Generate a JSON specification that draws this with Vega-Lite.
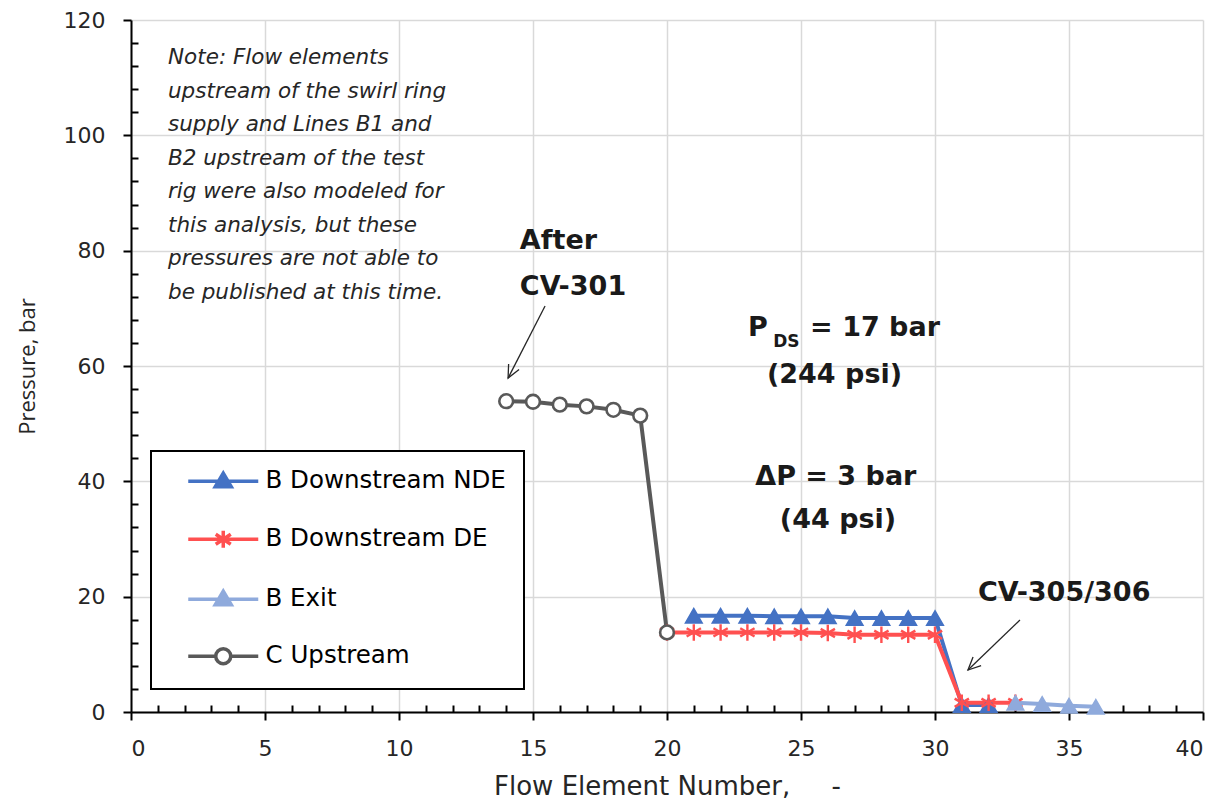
{
  "$schema": "https://vega.github.io/schema/vega-lite/v6.json",
  "width": 1072,
  "height": 692,
  "autosize": {"type": "none"},
  "padding": {"left": 131, "top": 20, "right": 19, "bottom": 94},
  "background": "white",
  "config": {"view": {"stroke": null}, "legend": {"strokeWidth": 2}},
  "datasets": {
    "series": [
      {"series": "B Downstream NDE", "x": 21, "y": 16.7},
      {"series": "B Downstream NDE", "x": 22, "y": 16.7},
      {"series": "B Downstream NDE", "x": 23, "y": 16.7},
      {"series": "B Downstream NDE", "x": 24, "y": 16.6},
      {"series": "B Downstream NDE", "x": 25, "y": 16.6},
      {"series": "B Downstream NDE", "x": 26, "y": 16.6},
      {"series": "B Downstream NDE", "x": 27, "y": 16.3},
      {"series": "B Downstream NDE", "x": 28, "y": 16.3},
      {"series": "B Downstream NDE", "x": 29, "y": 16.3},
      {"series": "B Downstream NDE", "x": 30, "y": 16.3},
      {"series": "B Downstream NDE", "x": 31, "y": 1.2},
      {"series": "B Downstream NDE", "x": 32, "y": 1.2},
      {"series": "B Downstream DE", "x": 20, "y": 13.8},
      {"series": "B Downstream DE", "x": 21, "y": 13.8},
      {"series": "B Downstream DE", "x": 22, "y": 13.8},
      {"series": "B Downstream DE", "x": 23, "y": 13.8},
      {"series": "B Downstream DE", "x": 24, "y": 13.8},
      {"series": "B Downstream DE", "x": 25, "y": 13.8},
      {"series": "B Downstream DE", "x": 26, "y": 13.7},
      {"series": "B Downstream DE", "x": 27, "y": 13.4},
      {"series": "B Downstream DE", "x": 28, "y": 13.4},
      {"series": "B Downstream DE", "x": 29, "y": 13.4},
      {"series": "B Downstream DE", "x": 30, "y": 13.4},
      {"series": "B Downstream DE", "x": 31, "y": 1.6},
      {"series": "B Downstream DE", "x": 32, "y": 1.6},
      {"series": "B Downstream DE", "x": 33, "y": 1.6},
      {"series": "B Exit", "x": 33, "y": 1.6},
      {"series": "B Exit", "x": 34, "y": 1.4},
      {"series": "B Exit", "x": 35, "y": 1.1},
      {"series": "B Exit", "x": 36, "y": 0.9},
      {"series": "C Upstream", "x": 14, "y": 53.9},
      {"series": "C Upstream", "x": 15, "y": 53.8},
      {"series": "C Upstream", "x": 16, "y": 53.3},
      {"series": "C Upstream", "x": 17, "y": 53.0},
      {"series": "C Upstream", "x": 18, "y": 52.4},
      {"series": "C Upstream", "x": 19, "y": 51.4},
      {"series": "C Upstream", "x": 20, "y": 13.8}
    ],
    "arrows": [
      {"seg": "a1", "ord": 1, "x": 15.45, "y": 70.4},
      {"seg": "a1", "ord": 2, "x": 14.07, "y": 57.9},
      {"seg": "h1", "ord": 1, "x": 14.48, "y": 59.41},
      {"seg": "h1", "ord": 2, "x": 14.07, "y": 57.9},
      {"seg": "h1", "ord": 3, "x": 14.09, "y": 60.34},
      {"seg": "a2", "ord": 1, "x": 33.17, "y": 15.95},
      {"seg": "a2", "ord": 2, "x": 31.23, "y": 7.28},
      {"seg": "h2", "ord": 1, "x": 31.72, "y": 8.06},
      {"seg": "h2", "ord": 2, "x": 31.23, "y": 7.28},
      {"seg": "h2", "ord": 3, "x": 31.42, "y": 9.55}
    ],
    "note": [
      {"x": 1.38, "y": 113.4, "text": "Note: Flow elements\nupstream of the swirl ring\nsupply and Lines B1 and\nB2 upstream of the test\nrig were also modeled for\nthis analysis, but these\npressures are not able to\nbe published at this time."}
    ],
    "boldLeft": [
      {"x": 14.51, "y": 81.6, "text": "After"},
      {"x": 14.51, "y": 73.7, "text": "CV-301"},
      {"x": 31.6, "y": 20.6, "text": "CV-305/306"},
      {"x": 23.02, "y": 66.6, "text": "P"},
      {"x": 25.34, "y": 66.6, "text": "= 17 bar"}
    ],
    "boldCenter": [
      {"x": 26.25, "y": 58.4, "text": "(244 psi)"},
      {"x": 26.3, "y": 40.7, "text": "ΔP = 3 bar"},
      {"x": 26.38, "y": 33.3, "text": "(44 psi)"}
    ],
    "sub": [
      {"x": 23.96, "y": 64.2, "text": "DS"}
    ]
  },
  "encoding": {
    "x": {
      "field": "x", "type": "quantitative",
      "scale": {"domain": [0, 40], "nice": false, "zero": false},
      "axis": {
        "title": "Flow Element Number,\u00a0\u00a0\u00a0\u00a0\u00a0-",
        "values": [0,1,2,3,4,5,6,7,8,9,10,11,12,13,14,15,16,17,18,19,20,21,22,23,24,25,26,27,28,29,30,31,32,33,34,35,36,37,38,39,40],
        "labelExpr": "datum.value % 5 === 0 ? datum.label : ''",
        "labelOverlap": false,
        "tickSize": {"condition": {"test": "datum.value % 5 === 0", "value": 8}, "value": -7},
        "grid": true,
        "gridOpacity": {"condition": {"test": "datum.value % 5 === 0", "value": 1}, "value": 0},
        "gridColor": "#d9d9d9", "gridWidth": 1.5,
        "domainColor": "black", "domainWidth": 2,
        "tickColor": "black", "tickWidth": 2,
        "labelFont": "DejaVu Sans", "labelFontSize": 22, "labelColor": "#262626",
        "labelPadding": 18,
        "titleFont": "DejaVu Sans", "titleFontSize": 26, "titleFontWeight": "normal", "titleColor": "#262626",
        "titlePadding": 14
      }
    },
    "y": {
      "field": "y", "type": "quantitative",
      "scale": {"domain": [0, 120], "nice": false, "zero": true},
      "axis": {
        "title": "Pressure, bar",
        "values": [0,4,8,12,16,20,24,28,32,36,40,44,48,52,56,60,64,68,72,76,80,84,88,92,96,100,104,108,112,116,120],
        "labelExpr": "datum.value % 20 === 0 ? datum.label : ''",
        "labelOverlap": false,
        "tickSize": {"condition": {"test": "datum.value % 20 === 0", "value": 8}, "value": -7},
        "grid": true,
        "gridOpacity": {"condition": {"test": "datum.value % 20 === 0", "value": 1}, "value": 0},
        "gridColor": "#d9d9d9", "gridWidth": 1.5,
        "domainColor": "black", "domainWidth": 2,
        "tickColor": "black", "tickWidth": 2,
        "labelFont": "DejaVu Sans", "labelFontSize": 22, "labelColor": "#262626",
        "labelPadding": 18,
        "titleFont": "Open Sans", "titleFontSize": 22, "titleFontWeight": "normal", "titleColor": "#262626",
        "titlePadding": 24
      }
    }
  },
  "layer": [
    {
      "data": {"name": "series"},
      "transform": [{"filter": "datum.series === 'B Downstream NDE'"}],
      "mark": {"type": "line", "strokeWidth": 4, "stroke": "#4472C4"}
    },
    {
      "data": {"name": "series"},
      "transform": [{"filter": "datum.series === 'B Downstream DE'"}],
      "mark": {"type": "line", "strokeWidth": 4, "stroke": "#FF5050"}
    },
    {
      "data": {"name": "series"},
      "transform": [{"filter": "datum.series === 'B Exit'"}],
      "mark": {"type": "line", "strokeWidth": 4, "stroke": "#8FAADC"}
    },
    {
      "data": {"name": "series"},
      "transform": [{"filter": "datum.series === 'C Upstream'"}],
      "mark": {"type": "line", "strokeWidth": 4, "stroke": "#595959"}
    },
    {
      "data": {"name": "series"},
      "transform": [{"filter": "datum.series === 'B Downstream NDE'"}],
      "mark": {"type": "point", "shape": "triangle-up", "size": 280, "filled": true, "fill": "#4472C4", "stroke": "#4472C4", "strokeWidth": 1.5, "opacity": 1}
    },
    {
      "data": {"name": "series"},
      "transform": [{"filter": "datum.series === 'B Downstream DE'"}],
      "mark": {"type": "point", "shape": "M0,-1V1M-0.87,-0.5L0.87,0.5M-0.87,0.5L0.87,-0.5", "size": 270, "filled": false, "stroke": "#FF5050", "strokeWidth": 2.4, "opacity": 1}
    },
    {
      "data": {"name": "series"},
      "transform": [{"filter": "datum.series === 'B Exit'"}],
      "mark": {"type": "point", "shape": "triangle-up", "size": 280, "filled": true, "fill": "#8FAADC", "stroke": "#8FAADC", "strokeWidth": 1.5, "opacity": 1}
    },
    {
      "data": {"name": "series"},
      "transform": [{"filter": "datum.series === 'C Upstream'"}],
      "mark": {"type": "point", "shape": "circle", "size": 190, "filled": true, "fill": "#ffffff", "stroke": "#595959", "strokeWidth": 2.6, "opacity": 1}
    },
    {
      "data": {"name": "series"},
      "mark": {"type": "point", "filled": false, "opacity": 0, "size": 400, "strokeWidth": 3.5},
      "encoding": {
        "color": {
          "field": "series", "type": "nominal",
          "scale": {
            "domain": ["B Downstream NDE", "B Downstream DE", "B Exit", "C Upstream"],
            "range": ["#4472C4", "#FF5050", "#8FAADC", "#595959"]
          },
          "legend": {
            "title": null,
            "orient": "none",
            "legendX": 20,
            "legendY": 431,
            "padding": 18,
            "strokeColor": "black",
            "fillColor": "white",
            "labelFont": "DejaVu Sans",
            "labelFontSize": 24.5,
            "labelColor": "black",
            "labelLimit": 0,
            "labelOffset": 30,
            "symbolOffset": 42,
            "symbolSize": 400,
            "symbolStrokeWidth": 3.5,
            "symbolOpacity": 1,
            "rowPadding": 29
          }
        },
        "fill": {
          "field": "series", "type": "nominal",
          "scale": {
            "domain": ["B Downstream NDE", "B Downstream DE", "B Exit", "C Upstream"],
            "range": ["#4472C4", "#FF5050", "#8FAADC", "#ffffff"]
          }
        },
        "shape": {
          "field": "series", "type": "nominal",
          "scale": {
            "domain": ["B Downstream NDE", "B Downstream DE", "B Exit", "C Upstream"],
            "range": [
              "M-3.5,0H3.5M0,-0.8L0.8,0.55L-0.8,0.55Z",
              "M-3.5,0H3.5M0,-0.85V0.85M-0.75,-0.5L0.75,0.5M-0.75,0.5L0.75,-0.5",
              "M-3.5,0H3.5M0,-0.8L0.8,0.55L-0.8,0.55Z",
              "M-3.5,0H-0.75M0.75,0H3.5M0.75,0A0.75,0.75,0,1,1,-0.75,0A0.75,0.75,0,1,1,0.75,0Z"
            ]
          }
        }
      }
    },
    {
      "data": {"name": "arrows"},
      "mark": {"type": "line", "stroke": "#262626", "strokeWidth": 1.3},
      "encoding": {
        "detail": {"field": "seg", "type": "nominal"},
        "order": {"field": "ord", "type": "quantitative"}
      }
    },
    {
      "data": {"name": "note"},
      "mark": {"type": "text", "align": "left", "baseline": "middle", "font": "DejaVu Sans", "fontStyle": "italic", "fontSize": 21.5, "lineBreak": "\n", "lineHeight": 33.5, "color": "#262626"},
      "encoding": {
        "text": {"field": "text"}
      }
    },
    {
      "data": {"name": "boldLeft"},
      "mark": {"type": "text", "align": "left", "baseline": "middle", "font": "DejaVu Sans", "fontWeight": "bold", "fontSize": 27, "color": "#1a1a1a"},
      "encoding": {
        "text": {"field": "text"}
      }
    },
    {
      "data": {"name": "boldCenter"},
      "mark": {"type": "text", "align": "center", "baseline": "middle", "font": "DejaVu Sans", "fontWeight": "bold", "fontSize": 27, "color": "#1a1a1a"},
      "encoding": {
        "text": {"field": "text"}
      }
    },
    {
      "data": {"name": "sub"},
      "mark": {"type": "text", "align": "left", "baseline": "middle", "font": "DejaVu Sans", "fontWeight": "bold", "fontSize": 17, "color": "#1a1a1a"},
      "encoding": {
        "text": {"field": "text"}
      }
    }
  ]
}
